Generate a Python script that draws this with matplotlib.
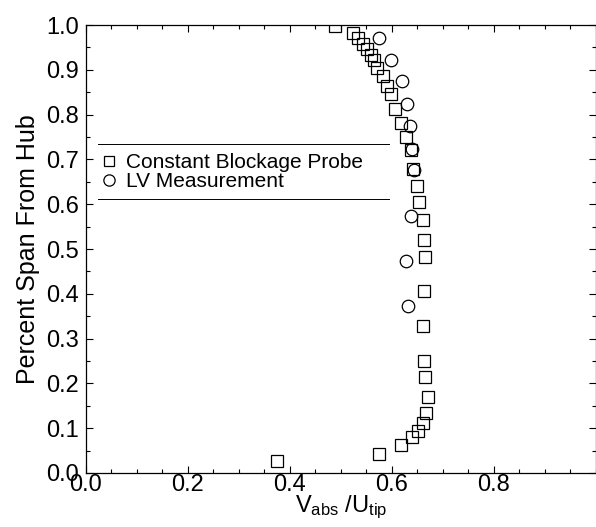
import matplotlib
matplotlib.use("Agg")
import matplotlib.pyplot as plt
from matplotlib.ticker import MultipleLocator

plt.rcParams['font.family'] = ['Liberation Sans', 'DejaVu Sans']
plt.rcParams['mathtext.fontset'] = 'custom'
plt.rcParams['mathtext.rm'] = 'Liberation Sans'
plt.rcParams['mathtext.it'] = 'Liberation Sans'

# Constant Blockage Probe (squares)
probe_v = [0.488, 0.524, 0.533, 0.543, 0.552, 0.558, 0.565, 0.571, 0.582, 0.591,
           0.599, 0.606, 0.617, 0.627, 0.637, 0.642, 0.650, 0.654, 0.661, 0.663,
           0.664, 0.663, 0.660, 0.662, 0.665, 0.670, 0.666, 0.660, 0.651, 0.640,
           0.617, 0.575, 0.375]
probe_span = [0.998, 0.983, 0.970, 0.957, 0.946, 0.933, 0.922, 0.905, 0.887, 0.863,
              0.845, 0.813, 0.782, 0.750, 0.721, 0.679, 0.641, 0.604, 0.564, 0.521,
              0.482, 0.406, 0.329, 0.249, 0.214, 0.170, 0.133, 0.111, 0.094, 0.081,
              0.063, 0.043, 0.027]

# LV Measurement (circles)
lv_v = [0.575, 0.599, 0.619, 0.629, 0.635, 0.640, 0.643, 0.637, 0.628, 0.631]
lv_span = [0.972, 0.922, 0.874, 0.823, 0.774, 0.723, 0.676, 0.573, 0.474, 0.373]

xtick_vals = [0.0, 0.2, 0.4, 0.6, 0.8]
xtick_labels = ['0.0', '0.2', '0.4', '0.6', '0.8']

fig = plt.figure(figsize=(5.96, 5.27), dpi=100)
ax = fig.add_axes([0.144, 0.1025, 0.856, 0.850])

ax.plot(probe_v, probe_span, linestyle='none', marker='s', markersize=8,
        markerfacecolor='none', markeredgecolor='black', markeredgewidth=0.9,
        label='Constant Blockage Probe')
ax.plot(lv_v, lv_span, linestyle='none', marker='o', markersize=9,
        markerfacecolor='none', markeredgecolor='black', markeredgewidth=0.9,
        label='LV Measurement')

ax.set_xlim(0, 1.0)
ax.set_ylim(0, 1.0)
ax.xaxis.set_minor_locator(MultipleLocator(0.05))
ax.yaxis.set_major_locator(MultipleLocator(0.1))
ax.yaxis.set_minor_locator(MultipleLocator(0.05))
ax.set_xticks(xtick_vals)
ax.set_xticklabels(xtick_labels)
ax.tick_params(which='both', direction='in', top=True, right=True, width=0.8)
ax.tick_params(which='major', length=5, labelsize=17)
ax.tick_params(which='minor', length=3)
ax.tick_params(axis='x', pad=1)
ax.tick_params(axis='y', pad=5)
for s in ax.spines.values():
    s.set_linewidth(0.9)

ax.set_xlabel(r'$\mathrm{V_{abs}\ /U_{tip}}$', fontsize=17, labelpad=-2)
ax.set_ylabel('Percent Span From Hub', fontsize=18, labelpad=4)

# legend with only top and bottom rules
ax.legend(loc='center left', bbox_to_anchor=(0.0, 0.672), frameon=False,
          fontsize=15, handlelength=0.8, handletextpad=0.45, labelspacing=0.0,
          markerscale=0.9, borderpad=0.2)
ax.plot([0.024, 0.594], [0.734, 0.734], color='black', lw=0.7, transform=ax.transAxes)
ax.plot([0.024, 0.594], [0.612, 0.612], color='black', lw=0.7, transform=ax.transAxes)

fig.savefig('out.png', dpi=100)
